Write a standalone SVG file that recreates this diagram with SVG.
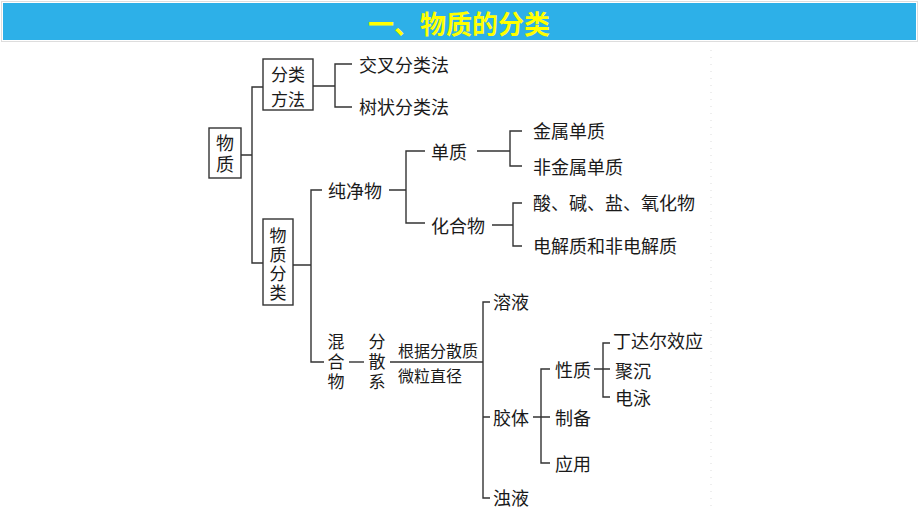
<svg xmlns="http://www.w3.org/2000/svg" width="920" height="518" viewBox="0 0 920 518">
<style>
.t{font-family:"Noto Sans CJK SC","Noto Sans",sans-serif;font-size:18px;fill:#1a1a1a;dominant-baseline:central}
.s{font-size:16px}
.vt{font-family:"Noto Sans CJK SC","Noto Sans",sans-serif;font-size:17px;fill:#1a1a1a;writing-mode:vertical-rl;text-anchor:middle}
.c{text-anchor:middle}
.box{fill:#fff;stroke:#333;stroke-width:1.4}
.ln{fill:none;stroke:#333;stroke-width:1.4}
</style>
<rect x="0" y="0" width="920" height="518" fill="#fff"/>
<g id="header">
<rect x="1" y="1" width="917" height="41" fill="#ddd"/>
<rect x="2.5" y="2.5" width="914" height="38" fill="#2DB0E8" stroke="#fff" stroke-width="1"/>
<text x="459" y="22" text-anchor="middle" dominant-baseline="central" font-family="Noto Sans CJK SC,sans-serif" font-size="26" font-weight="bold" fill="#FFFF00">一、物质的分类</text>
</g>
<line x1="711" y1="50" x2="711" y2="512" stroke="#ddd" stroke-width="1" stroke-dasharray="1 6"/>
<g id="connectors">
<path class="ln" d="M241 155H252M263 87H252V263H263"/>
<path class="ln" d="M313 86H335M352 64H335V107H352"/>
<path class="ln" d="M293 265H311M322 190H311V362H324"/>
<path class="ln" d="M389 190H406M425 151H406V223H425"/>
<path class="ln" d="M477 151H510M522 131H510V166H522"/>
<path class="ln" d="M492 225H513M522 203H513V246H522"/>
<path class="ln" d="M349 362H364"/>
<path class="ln" d="M390 362H483M490 302H483V498H490M483 417H490"/>
<path class="ln" d="M533 417H550M550 369H541V463H550"/>
<path class="ln" d="M594 369H610M610 343H603V397H610"/>
</g>
<g id="n-wuzhi"><rect class="box" x="209" y="128" width="32" height="50"/><text class="vt" x="225" y="155" style="font-size:18px;letter-spacing:3px">物质</text></g>
<g id="n-fenleifangfa"><rect class="box" x="263" y="59" width="50" height="51"/><text class="t c" x="288" y="73" style="font-size:17px">分类</text><text class="t c" x="288" y="98" style="font-size:17px">方法</text></g>
<g id="n-jiaocha"><text class="t" x="359" y="64">交叉分类法</text></g>
<g id="n-shuzhuang"><text class="t" x="359" y="106">树状分类法</text></g>
<g id="n-wuzhifenlei"><rect class="box" x="263" y="219" width="30" height="86"/><text class="vt" x="278" y="265" style="letter-spacing:2px">物质分类</text></g>
<g id="n-chunjingwu"><text class="t" x="328" y="190">纯净物</text></g>
<g id="n-danzhi"><text class="t" x="431" y="151">单质</text></g>
<g id="n-huahewu"><text class="t" x="431" y="225">化合物</text></g>
<g id="n-jinshu"><text class="t" x="533" y="130">金属单质</text></g>
<g id="n-feijinshu"><text class="t" x="533" y="166">非金属单质</text></g>
<g id="n-suan"><text class="t" x="533" y="202">酸、碱、盐、氧化物</text></g>
<g id="n-dianjiezhi"><text class="t" x="533" y="245">电解质和非电解质</text></g>
<g id="n-hunhewu"><text class="vt" x="336" y="363" style="letter-spacing:3px">混合物</text></g>
<g id="n-fensanxi"><text class="vt" x="377" y="363" style="letter-spacing:3px">分散系</text></g>
<g id="label-yiju"><text class="t s" x="398" y="350">根据分散质</text><text class="t s" x="398" y="375">微粒直径</text></g>
<g id="n-rongye"><text class="t" x="493" y="301">溶液</text></g>
<g id="n-jiaoti"><text class="t" x="493" y="417">胶体</text></g>
<g id="n-zhuoye"><text class="t" x="493" y="497">浊液</text></g>
<g id="n-xingzhi"><text class="t" x="555" y="369">性质</text></g>
<g id="n-zhibei"><text class="t" x="555" y="417">制备</text></g>
<g id="n-yingyong"><text class="t" x="555" y="463">应用</text></g>
<g id="n-dingdaer"><text class="t" x="613" y="340">丁达尔效应</text></g>
<g id="n-jucheng"><text class="t" x="615" y="370">聚沉</text></g>
<g id="n-dianyong"><text class="t" x="615" y="397">电泳</text></g>
</svg>
